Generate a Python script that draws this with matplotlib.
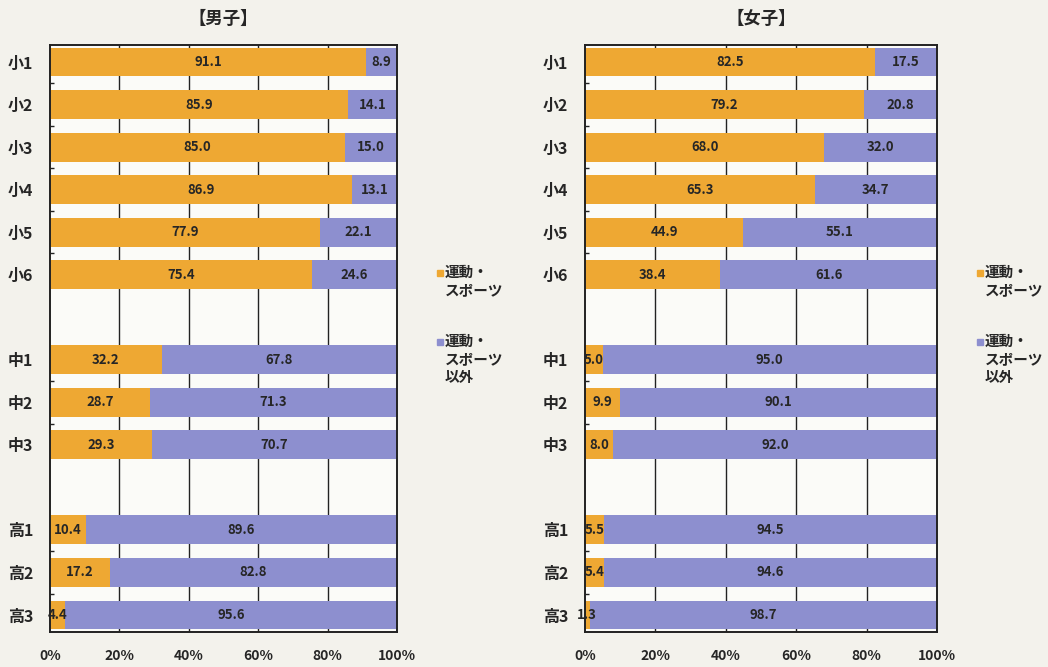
import matplotlib
matplotlib.use("Agg")
import matplotlib.pyplot as plt
import numpy as np

categories = ["小1", "小2", "小3", "小4", "小5", "小6", "中1", "中2", "中3", "高1", "高2", "高3"]
positions = [0, 1, 2, 3, 4, 5, 7, 8, 9, 11, 12, 13]
boys_sport = [91.1, 85.9, 85.0, 86.9, 77.9, 75.4, 32.2, 28.7, 29.3, 10.4, 17.2, 4.4]
boys_other = [8.9, 14.1, 15.0, 13.1, 22.1, 24.6, 67.8, 71.3, 70.7, 89.6, 82.8, 95.6]
girls_sport = [82.5, 79.2, 68.0, 65.3, 44.9, 38.4, 5.0, 9.9, 8.0, 5.5, 5.4, 1.3]
girls_other = [17.5, 20.8, 32.0, 34.7, 55.1, 61.6, 95.0, 90.1, 92.0, 94.5, 94.6, 98.7]
titles = ["【男子】", "【女子】"]
legend_labels = ["運動・\nスポーツ", "運動・\nスポーツ\n以外"]
xticks = [0, 20, 40, 60, 80, 100]
xtick_labels = ["0%", "20%", "40%", "60%", "80%", "100%"]

plt.rcParams['font.family'] = ['Noto Sans CJK JP', 'DejaVu Sans']

c_orange = "#EEA833"
c_purple = "#8D8FCF"
txt = "#262626"
bg = "#F3F2EC"

fig = plt.figure(figsize=(10.48, 6.67), dpi=100, facecolor=bg)

axes_rects = [
    [50 / 1048, 1 - 632 / 667, 347 / 1048, (632 - 45) / 667],
    [585 / 1048, 1 - 632 / 667, 352 / 1048, (632 - 45) / 667],
]
legend_x = [437 / 1048, 977 / 1048]

for k, (sport, other) in enumerate([(boys_sport, boys_other), (girls_sport, girls_other)]):
    ax = fig.add_axes(axes_rects[k])
    ax.set_facecolor("#FBFBF8")
    for x in [20, 40, 60, 80]:
        ax.axvline(x, color="#222222", lw=1.0, zorder=0)
    ax.barh(positions, sport, height=0.68, color=c_orange, zorder=2)
    ax.barh(positions, other, left=sport, height=0.68, color=c_purple, zorder=2)
    for p, s, o in zip(positions, sport, other):
        ax.text(s / 2, p, f"{s:.1f}", ha="center", va="center", fontsize=9.5,
                fontweight="bold", color=txt, zorder=3)
        ax.text(s + o / 2, p, f"{o:.1f}", ha="center", va="center", fontsize=9.5,
                fontweight="bold", color=txt, zorder=3)
    ax.set_xlim(0, 100)
    ax.set_ylim(13.4, -0.4)
    ax.set_yticks(positions)
    ax.set_yticklabels(categories, fontsize=11.5, fontweight="bold", color=txt)
    ax.set_yticks([p + 0.5 for p in positions if p + 1 in positions], minor=True)
    ax.tick_params(axis="y", which="minor", length=3, direction="in", width=1, color="#222222")
    ax.set_xticks(xticks)
    ax.set_xticklabels(xtick_labels, fontsize=10, fontweight="bold", color=txt)
    ax.tick_params(axis="y", which="major", length=0, pad=12)
    ax.tick_params(axis="x", length=0, pad=12)
    for sp in ax.spines.values():
        sp.set_linewidth(1.4)
        sp.set_color("#222222")
    ax.set_title(titles[k], fontsize=12.5, fontweight="bold", color=txt, pad=15)

    # legend
    lx = legend_x[k]
    fig.patches.append(plt.Rectangle((lx, 1 - 276 / 667), 6 / 1048, 6 / 667,
                                     transform=fig.transFigure, color=c_orange, figure=fig))
    fig.text(lx + 8 / 1048, 1 - 264 / 667, legend_labels[0], fontsize=10.5, fontweight="bold",
             color=txt, va="top", ha="left", linespacing=1.15)
    fig.patches.append(plt.Rectangle((lx, 1 - 345 / 667), 6 / 1048, 6 / 667,
                                     transform=fig.transFigure, color=c_purple, figure=fig))
    fig.text(lx + 8 / 1048, 1 - 333 / 667, legend_labels[1], fontsize=10.5, fontweight="bold",
             color=txt, va="top", ha="left", linespacing=1.15)

fig.savefig("out.png", dpi=100, facecolor=bg)
